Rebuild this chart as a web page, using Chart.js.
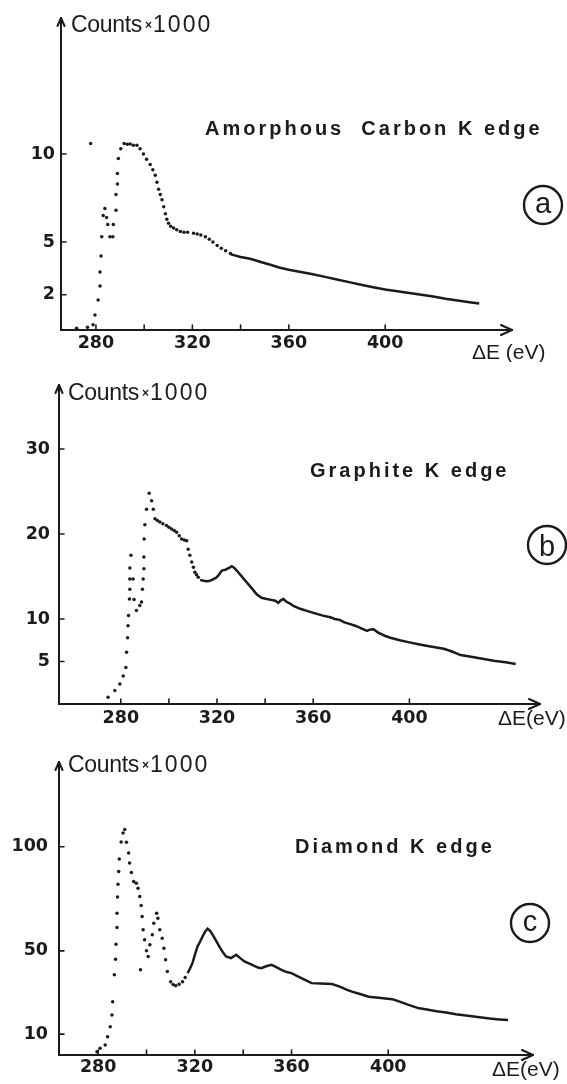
<!DOCTYPE html>
<html>
<head>
<meta charset="utf-8">
<script src="https://cdn.jsdelivr.net/npm/chart.js@4.4.1/dist/chart.umd.min.js"></script>
<style>
  html, body { margin: 0; padding: 0; background: #fff; }
  body { width: 567px; height: 1084px; overflow: hidden; }
  canvas { display: block; }
</style>
</head>
<body>
<canvas id="panelA" width="567" height="362"></canvas>
<canvas id="panelB" width="567" height="373"></canvas>
<canvas id="panelC" width="567" height="349"></canvas>
<script>
// energy loss (eV) and counts (x1000) for the three carbon K edges
const energyTicks = [280, 300, 320, 340, 360, 400];
const energyLabels = [280, 320, 360, 400];

// (a) amorphous carbon
const amorphousDotsE = [272, 276.5, 277.8, 278.8, 279.6, 280.9, 281.7, 281.7, 282.1, 282.4, 283, 283.7, 284.4, 284.9, 285.8, 287, 287.2, 288.3, 288.3, 288.9, 288.9, 289.3, 290.3, 291.7, 293, 294.2, 295.5, 297, 298.3, 299.7, 301, 302.5, 303.6, 304.6, 305.3, 306, 306.7, 307.4, 308.1, 308.8, 309.4, 310.1, 311, 312.2, 313.5, 315, 316.5, 318, 320.5, 322, 323.5, 325.4, 327, 328.5, 330.3, 332, 333.8, 335.8];
const amorphousDotsCounts = [0.1, 0.15, 10.6, 0.3, 0.85, 1.7, 2.5, 3.3, 4.2, 5.3, 6.5, 6.9, 6.4, 6.0, 5.3, 5.3, 6.0, 6.8, 7.7, 8.3, 8.9, 9.75, 10.3, 10.6, 10.55, 10.57, 10.5, 10.5, 10.3, 10.0, 9.7, 9.4, 9.1, 8.8, 8.4, 8.0, 7.7, 7.4, 7.0, 6.6, 6.3, 6.07, 5.9, 5.8, 5.7, 5.6, 5.55, 5.55, 5.5, 5.45, 5.4, 5.3, 5.15, 5.0, 4.8, 4.65, 4.5, 4.35];
const amorphousLineE = [336, 340, 344, 348, 352, 356, 360, 365, 370, 375, 380, 385, 390, 395, 400, 405, 410, 415, 420, 425, 430, 435, 439];
const amorphousLineCounts = [4.3, 4.15, 4.05, 3.88, 3.72, 3.55, 3.42, 3.3, 3.17, 3.02, 2.87, 2.72, 2.57, 2.43, 2.3, 2.2, 2.1, 2.0, 1.9, 1.78, 1.68, 1.58, 1.5];
const amorphousCountTicks = [2, 5, 10];

// (b) graphite
const graphiteDotsE = [274.7, 277.5, 279.6, 281, 282.1, 282.4, 282.8, 283, 283.2, 283.6, 283.75, 283.75, 283.75, 284.2, 285.1, 285.5, 286.5, 287.9, 288.6, 289, 289.3, 289.6, 289.6, 289.7, 290, 290.7, 291.8, 292.8, 293.5, 294.2, 295.2, 296.25, 297.5, 299, 300, 301.1, 302.2, 303.2, 304.3, 305.3, 306.4, 307.4, 308, 308.7, 309.5, 310.2, 310.8, 311.5, 312.2];
const graphiteDotsCounts = [0.8, 1.6, 2.35, 3.3, 4.3, 6.1, 7.8, 9.2, 10.4, 12.35, 13.5, 14.7, 16.0, 17.5, 14.7, 12.3, 11.0, 11.6, 12.0, 13.5, 14.7, 15.9, 17.3, 19.4, 21.1, 22.9, 24.8, 23.9, 22.9, 21.8, 21.6, 21.4, 21.2, 21.0, 20.8, 20.6, 20.4, 20.2, 19.8, 19.4, 19.3, 19.2, 18.2, 17.5, 16.7, 16.1, 15.5, 15.2, 14.9];
const graphiteLineE = [313, 314.3, 316, 317.1, 318.5, 319.9, 321, 322, 323.5, 325, 326.1, 327.2, 328.2, 330, 332.4, 334.5, 336.5, 338.5, 340.7, 342.5, 344.2, 345.5, 346.5, 347.6, 349, 350.4, 352, 354.6, 358, 361.5, 364, 367.1, 369, 371, 373, 375.4, 378, 380, 382.4, 383.5, 385.1, 387, 390, 392.1, 396, 400, 403.2, 407, 410, 414.3, 418, 421.25, 425, 428, 431, 435, 440, 444.2];
const graphiteLineCounts = [14.6, 14.5, 14.45, 14.5, 14.7, 14.9, 15.3, 15.7, 15.8, 16.0, 16.2, 16.0, 15.7, 15.1, 14.3, 13.6, 12.9, 12.5, 12.35, 12.25, 12.15, 11.9, 12.2, 12.35, 12.0, 11.8, 11.5, 11.2, 10.9, 10.6, 10.4, 10.2, 10.0, 9.9, 9.6, 9.4, 9.15, 8.9, 8.6, 8.75, 8.8, 8.4, 8.0, 7.8, 7.5, 7.25, 7.06, 6.85, 6.7, 6.5, 6.15, 5.76, 5.6, 5.45, 5.3, 5.1, 4.9, 4.7];
const graphiteCountTicks = [5, 10, 20, 30];

// (c) diamond
const diamondDotsE = [279.5, 280.8, 282.9, 283.9, 285, 285.7, 286, 286.7, 287.2, 287.4, 287.8, 287.8, 288, 288.2, 288.5, 288.75, 289.5, 290.3, 291, 291.7, 292.6, 293, 293.75, 294.7, 295.8, 296.5, 297.2, 297.5, 297.8, 298.2, 298.6, 299.2, 300, 300.7, 301.4, 302.4, 303, 304.2, 304.7, 305.5, 306.5, 307.2, 307.9, 308.6, 310, 311, 312.1, 313.5, 314.9, 316];
const diamondDotsCounts = [1.6, 3.2, 4.8, 8.8, 13.6, 19.2, 25.6, 38.5, 46, 53.2, 61.2, 68.1, 75.8, 82, 88.1, 94.1, 102.3, 106.6, 108.2, 102.1, 97, 92.2, 87.6, 83.3, 82.5, 80.1, 76.1, 40.9, 71.8, 66.5, 60.1, 55.3, 50.1, 47.3, 52.9, 57.7, 63.3, 68.1, 65.7, 60.1, 56.1, 51.3, 45.7, 40.1, 35.2, 33.8, 33.2, 34.0, 35.2, 37.2];
const diamondLineE = [317, 318, 319, 320, 321.1, 322.2, 323.2, 324.3, 325.3, 326.4, 327.4, 328.7, 330.1, 331.5, 332.9, 335, 337.1, 338.8, 340.5, 343.3, 346.1, 347.5, 349.5, 351.7, 353.5, 355.8, 358, 360, 363, 366, 368.3, 372, 376.7, 380, 383, 385, 388, 392, 396, 401.7, 405, 409, 412.8, 416, 420, 423.9, 428, 433, 437.8, 442, 446, 449.6];
const diamondLineCounts = [39.3, 41.5, 44.1, 48, 52.1, 54.5, 56.9, 59.3, 60.6, 59.5, 57.7, 55, 52.1, 49.5, 47.3, 46.5, 48.1, 46.5, 44.9, 43.5, 42, 41.7, 42.6, 43.3, 42.3, 40.9, 39.8, 39.3, 37.5, 35.8, 34.5, 34.3, 34.1, 32.8, 31.3, 30.4, 29.4, 28, 27.5, 26.8, 25.5, 23.8, 22.4, 21.8, 21.0, 20.4, 19.6, 18.8, 18.1, 17.5, 17.1, 16.8];
const diamondCountTicks = [10, 50, 100];

const ink = '#1b1b1b';
const toPoints = (xs, ys) => xs.map((x, i) => ({ x: x, y: ys[i] }));

// axis arrows, inward tick marks and the text drawn over each panel
const edgeDecor = {
    id: 'edgeDecor',
    afterDraw(chart, args, opts) {
        const ctx = chart.ctx;
        const { left, right, top, bottom } = chart.chartArea;
        ctx.save();
        ctx.strokeStyle = ink;
        ctx.fillStyle = ink;
        ctx.lineCap = 'round';
        ctx.lineJoin = 'round';

        ctx.lineWidth = 1.6;
        ctx.beginPath();
        chart.scales.x.ticks.forEach(t => {
            const px = chart.scales.x.getPixelForValue(t.value);
            ctx.moveTo(px, bottom);
            ctx.lineTo(px, bottom - 5);
        });
        chart.scales.y.ticks.forEach(t => {
            const py = chart.scales.y.getPixelForValue(t.value);
            ctx.moveTo(left, py);
            ctx.lineTo(left + 5, py);
        });
        ctx.stroke();

        ctx.lineWidth = 2;
        ctx.beginPath();
        ctx.moveTo(left - 3.5, top + 8);
        ctx.lineTo(left, top);
        ctx.lineTo(left + 3.5, top + 8);
        ctx.moveTo(right - 11, bottom - 5);
        ctx.lineTo(right, bottom);
        ctx.lineTo(right - 11, bottom + 5);
        ctx.stroke();

        ctx.textAlign = 'left';
        ctx.textBaseline = 'alphabetic';

        // Counts x1000
        let cx = opts.counts.x;
        const cy = opts.counts.y;
        ctx.font = '23px "Liberation Sans"';
        ctx.letterSpacing = '-0.3px';
        ctx.fillText('Counts', cx, cy);
        cx += ctx.measureText('Counts').width + 3;
        ctx.font = 'bold 12px "Liberation Sans"';
        ctx.letterSpacing = '0px';
        ctx.fillText('×', cx, cy - 3);
        cx += ctx.measureText('×').width + 1;
        ctx.font = '23px "Liberation Sans"';
        ctx.letterSpacing = '2px';
        ctx.fillText('1000', cx, cy);

        // sample name
        ctx.font = 'bold 20px "Liberation Sans"';
        ctx.letterSpacing = '3px';
        ctx.fillText(opts.title.text, opts.title.x, opts.title.y);

        // energy unit
        ctx.font = '21px "Liberation Sans"';
        ctx.letterSpacing = '0px';
        ctx.fillText(opts.unit.text, opts.unit.x, opts.unit.y);

        // circled panel letter
        ctx.lineWidth = 2.4;
        ctx.beginPath();
        ctx.arc(opts.badge.x, opts.badge.y, 19, 0, Math.PI * 2);
        ctx.stroke();
        ctx.font = '29px "Liberation Sans"';
        ctx.textAlign = 'center';
        ctx.fillText(opts.badge.letter, opts.badge.x, opts.badge.y + opts.badge.dy);
        ctx.restore();
    }
};

function makePanel(id, cfg) {
    new Chart(document.getElementById(id), {
        type: 'scatter',
        data: {
            datasets: [
                {
                    data: toPoints(cfg.dotsE, cfg.dotsCounts),
                    showLine: false,
                    pointRadius: 1.75,
                    pointBorderWidth: 0,
                    pointBackgroundColor: ink
                },
                {
                    data: toPoints(cfg.lineE, cfg.lineCounts),
                    showLine: true,
                    pointRadius: 0,
                    borderWidth: 2.5,
                    borderColor: ink,
                    tension: 0
                }
            ]
        },
        options: {
            responsive: false,
            animation: false,
            devicePixelRatio: 1,
            layout: { padding: { top: cfg.top, right: cfg.right, left: 0, bottom: 0 } },
            plugins: {
                legend: { display: false },
                tooltip: { enabled: false },
                edgeDecor: cfg.decor
            },
            scales: {
                x: {
                    type: 'linear',
                    min: cfg.xMin,
                    max: cfg.xMax,
                    afterBuildTicks: s => { s.ticks = energyTicks.map(v => ({ value: v })); },
                    afterFit: s => { s.height = cfg.xAxisHeight; },
                    grid: { display: false, drawTicks: false },
                    border: { display: true, color: ink, width: 2 },
                    ticks: {
                        autoSkip: false,
                        maxRotation: 0,
                        padding: cfg.xPad,
                        color: ink,
                        font: { family: 'DejaVu Sans', weight: 'bold', size: 17.5 },
                        callback: v => energyLabels.includes(v) ? String(v) : ''
                    }
                },
                y: {
                    type: 'linear',
                    min: 0,
                    max: cfg.yMax,
                    afterBuildTicks: s => { s.ticks = cfg.yTicks.map(v => ({ value: v })); },
                    afterFit: s => { s.width = cfg.yAxisWidth; },
                    grid: { display: false, drawTicks: false },
                    border: { display: true, color: ink, width: 2 },
                    ticks: {
                        padding: cfg.yPad,
                        color: ink,
                        font: { family: 'DejaVu Sans', weight: 'bold', size: 17.5 }
                    }
                }
            }
        },
        plugins: [edgeDecor]
    });
}

makePanel('panelA', {
    dotsE: amorphousDotsE, dotsCounts: amorphousDotsCounts,
    lineE: amorphousLineE, lineCounts: amorphousLineCounts,
    yTicks: amorphousCountTicks,
    xMin: 265.5, xMax: 452.6, yMax: 17.73,
    top: 18, right: 55, yAxisWidth: 61, xAxisHeight: 32, xPad: 3, yPad: 6,
    decor: {
        counts: { x: 71, y: 32 },
        title: { text: 'Amorphous  Carbon K edge', x: 205, y: 135 },
        unit: { text: 'ΔE (eV)', x: 472, y: 359 },
        badge: { letter: 'a', x: 543, y: 205, dy: 8 }
    }
});

makePanel('panelB', {
    dotsE: graphiteDotsE, dotsCounts: graphiteDotsCounts,
    lineE: graphiteLineE, lineCounts: graphiteLineCounts,
    yTicks: graphiteCountTicks,
    xMin: 254.3, xMax: 454.3, yMax: 37.53,
    top: 23, right: 27, yAxisWidth: 59, xAxisHeight: 31, xPad: 4, yPad: 9,
    decor: {
        counts: { x: 68, y: 38 },
        title: { text: 'Graphite K edge', x: 310, y: 115 },
        unit: { text: 'ΔE(eV)', x: 498, y: 363 },
        badge: { letter: 'b', x: 547, y: 183, dy: 11 }
    }
});

makePanel('panelC', {
    dotsE: diamondDotsE, dotsCounts: diamondDotsCounts,
    lineE: diamondLineE, lineCounts: diamondLineCounts,
    yTicks: diamondCountTicks,
    xMin: 263.8, xMax: 459.9, yMax: 140.66,
    top: 27, right: 34, yAxisWidth: 59, xAxisHeight: 29, xPad: 2, yPad: 11,
    decor: {
        counts: { x: 68, y: 37 },
        title: { text: 'Diamond K edge', x: 295, y: 118 },
        unit: { text: 'ΔE(eV)', x: 492, y: 341 },
        badge: { letter: 'c', x: 530, y: 188, dy: 7.5 }
    }
});
</script>
</body>
</html>
